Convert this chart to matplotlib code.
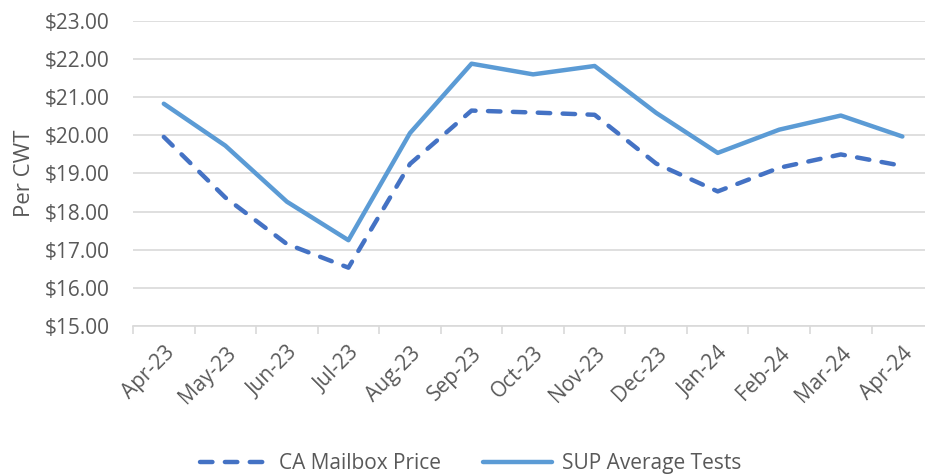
import matplotlib.pyplot as plt
from matplotlib.ticker import FuncFormatter

# -------------------------
# Datos
# -------------------------
months = ["Apr-23", "May-23", "Jun-23", "Jul-23", "Aug-23", "Sep-23", "Oct-23",
          "Nov-23", "Dec-23", "Jan-24", "Feb-24", "Mar-24", "Apr-24"]
ca_mailbox = [19.96, 18.37, 17.15, 16.53, 19.25, 20.65, 20.60,
              20.54, 19.26, 18.53, 19.15, 19.50, 19.20]
sup_tests = [20.83, 19.73, 18.26, 17.25, 20.06, 21.88, 21.60,
             21.82, 20.59, 19.54, 20.15, 20.52, 19.97]

plt.rcParams["font.family"] = ["Open Sans", "DejaVu Sans"]
text_color = "#595959"
grid_color = "#D9D9D9"
fs = 15

fig = plt.figure(figsize=(9.25, 4.75), dpi=100)
ax = fig.add_axes([0.1438, 0.3137, 0.865, 0.6421])

x = list(range(len(months)))
ax.plot(x, ca_mailbox, color="#4472C4", linewidth=3.2, linestyle=(0, (2.8, 2.8)),
        dash_capstyle="round", solid_joinstyle="round", label="CA Mailbox Price")
ax.plot(x, sup_tests, color="#5B9BD5", linewidth=3.2, solid_capstyle="round",
        solid_joinstyle="round", label="SUP Average Tests")

ax.set_xlim(-0.5, len(months) - 0.5)
ax.set_ylim(15, 23)
ax.set_yticks(range(15, 24))
ax.yaxis.set_major_formatter(FuncFormatter(lambda v, p: f"${v:.2f}"))
ax.grid(axis="y", color=grid_color, linewidth=1.2)
ax.set_axisbelow(True)

# ticks between categories, labels centred on categories
ax.set_xticks([i - 0.5 for i in range(len(months) + 1)])
ax.set_xticklabels([])
ax.set_xticks(x, minor=True)
ax.set_xticklabels(months, minor=True, rotation=45, ha="right", rotation_mode="anchor",
                   fontsize=fs, color=text_color)
ax.tick_params(axis="x", which="major", length=6, width=1.2, color=grid_color)
ax.tick_params(axis="x", which="minor", length=0, pad=12)
ax.tick_params(axis="y", length=0, labelsize=fs, labelcolor=text_color, pad=17)

for side in ["top", "right", "left"]:
    ax.spines[side].set_visible(False)
ax.spines["bottom"].set_color(grid_color)
ax.spines["bottom"].set_linewidth(1.2)

ax.set_ylabel("Per CWT", fontsize=16, color=text_color, labelpad=7)

leg = fig.legend(loc="lower center", bbox_to_anchor=(0.509, -0.038), ncol=2, frameon=False,
                 fontsize=fs, handlelength=3.3, columnspacing=2.0, handletextpad=0.5)
for t in leg.get_texts():
    t.set_color(text_color)

fig.savefig("out.png", dpi=100)
